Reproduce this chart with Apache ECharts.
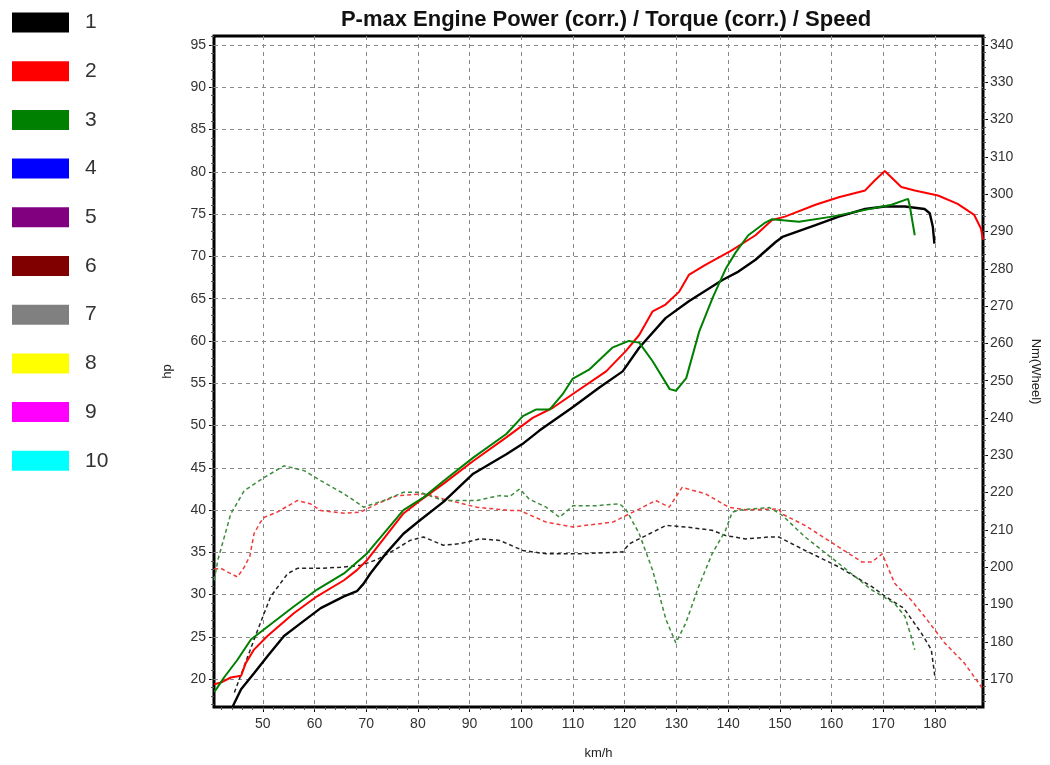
<!DOCTYPE html>
<html>
<head>
<meta charset="utf-8">
<script src="https://cdn.jsdelivr.net/npm/echarts@6/dist/echarts.min.js"></script>
<style>html,body{margin:0;padding:0;background:#fff}#c{width:1050px;height:765px}</style>
</head>
<body>
<div id="c"></div>
<script>
// ---- tick labels ----
const speedTicks = [50,60,70,80,90,100,110,120,130,140,150,160,170,180];
const hpTicks = [20,25,30,35,40,45,50,55,60,65,70,75,80,85,90,95];
const nmTicks = [170,180,190,200,210,220,230,240,250,260,270,280,290,300,310,320,330,340];
const legendNames = ['1','2','3','4','5','6','7','8','9','10'];
const legendColors = ['#000000','#ff0000','#008000','#0000ff','#800080','#800000','#808080','#ffff00','#ff00ff','#00ffff'];

// ---- power (hp) vs speed (km/h), solid ----
const power1 = [[44.2,16.8],[45.8,18.8],[48.3,20.7],[50.9,22.7],[54.1,25.1],[57.3,26.6],[61.2,28.4],[65.7,29.8],[68.2,30.4],[69.5,31.3],[70.8,32.5],[74,35],[77.2,37.2],[80.4,38.8],[85,41],[90.7,44.3],[97.1,46.6],[100.2,47.8],[103.5,49.4],[109.8,52.1],[115.1,54.5],[119.6,56.4],[122.8,59.2],[127.9,62.7],[132.4,64.7],[138.9,67.2],[142,68.2],[145.3,69.6],[149.2,71.7],[150.5,72.3],[156.9,73.7],[161.4,74.7],[166.5,75.6],[170.3,75.9],[174.2,75.9],[178,75.6],[179,75.1],[179.6,73.5],[179.9,71.5]];
const power2 = [[40.6,19.4],[41.9,19.6],[43.8,20.2],[45.8,20.4],[46.7,21.9],[48.3,23.5],[50.9,25.1],[56,27.8],[60.5,29.8],[65.7,31.7],[68.2,32.9],[70.2,34.1],[77.2,39.6],[80.4,41.1],[84.9,43.1],[90.7,45.8],[97.1,48.6],[102.2,50.9],[106.1,52.1],[109.9,53.7],[116.4,56.4],[120.2,58.8],[122.8,60.7],[125.4,63.5],[127.9,64.3],[130.5,65.8],[132.4,67.8],[135.6,69],[140.7,70.7],[145.3,72.5],[148.5,74.3],[151,74.7],[156.9,76.1],[161.4,77],[166.5,77.8],[168.4,79],[170.3,80.1],[173.5,78.2],[176.1,77.8],[180.6,77.2],[184.4,76.2],[187.6,74.9],[188.9,73.3],[189.3,72]];
const power3 = [[40.6,18.5],[41.2,19],[42.5,20.2],[45.1,22.3],[47.7,24.7],[50.9,26.2],[56,28.6],[60.5,30.6],[65.7,32.5],[70.2,34.9],[77.2,40],[81.1,41.5],[84.9,43.4],[90.7,46.2],[97.1,49],[100.3,51.1],[102.9,51.9],[105.5,51.9],[108,53.7],[109.9,55.5],[113.1,56.6],[117.6,59.2],[120.8,60],[122.8,59.8],[125.4,57.6],[128.7,54.3],[129.9,54.1],[131.9,55.6],[134.4,61.1],[137,65.1],[139.6,68.6],[141.5,70.5],[143.9,72.5],[147.2,74],[148.5,74.4],[153.7,74.1],[160.1,74.7],[166.5,75.5],[171.6,76.1],[174.8,76.8],[175.1,76.1],[176.1,72.5]];

// ---- torque (Nm wheel) vs speed (km/h), dashed ----
const torque1 = [[44.5,166.4],[48.3,180.6],[51.5,192.1],[54.8,198.3],[56.7,199.7],[61.2,199.7],[65,200],[68.9,200.5],[72,202],[75.3,204.5],[78.5,207.2],[81.1,208.1],[84.9,205.9],[88.1,206.3],[92,207.6],[95.8,207.2],[100.3,204.5],[104.8,203.6],[111.2,203.6],[119.6,204.1],[120.9,206.3],[124.1,208.5],[128,211.2],[131.8,210.8],[136.9,209.9],[139.5,208.5],[143.4,207.6],[147.8,208.1],[149.8,208.1],[154.9,204.5],[161.4,200.1],[167.8,194.8],[170.5,192.1],[174,189],[177.4,182.3],[179.3,177.9],[179.9,171.7],[180,170.5]];
const torque2 = [[40.6,199.5],[41.9,199.7],[43.5,198.5],[45.1,197.4],[46.4,200],[47.5,203],[48.3,209],[49.5,212],[50.3,213.4],[52.8,214.8],[56.7,217.9],[59.2,217],[61.2,215.2],[65.7,214.5],[68.9,214.8],[72.1,217],[76,219.2],[81.7,219.7],[84.9,218.3],[91.4,216.1],[97.8,215.2],[99.7,215.2],[104.8,212.1],[110,210.8],[117.7,212.1],[122.8,215.6],[126,217.9],[128.6,216.1],[131.1,221.4],[135.6,219.7],[140.1,216.1],[143.4,215.4],[149.8,215.6],[150.4,214.3],[154.9,211.2],[161.4,205.4],[165.9,201.4],[167.8,201.4],[169.8,203.6],[172.2,195.7],[175.4,191.2],[178,186.8],[181.9,179.7],[185.7,174.3],[188.9,168.1],[189.3,167]];
const torque3 = [[40.6,196.5],[41.3,201.9],[43.8,214.3],[46.4,220.5],[50.3,224.1],[54.1,227.2],[58,225.9],[61.2,223.2],[65.7,219.7],[69.5,216.1],[73.4,217.9],[77.2,220.1],[80.4,220.1],[84.9,217.9],[91.4,217.9],[95.8,219.2],[97.8,219],[99.7,221],[101.5,218.3],[104.8,216.1],[107.4,213.4],[110,216.5],[114.5,216.5],[119,217],[120.2,215.6],[122.8,209],[125.4,199.2],[128,185.9],[129.9,179.7],[131.8,185],[134.3,194.8],[136.9,203.6],[139.5,209.9],[140.8,214.8],[143,215.5],[148,216],[150.4,214],[154.9,208.1],[161.4,201],[167.8,193.9],[172.2,190.3],[174.2,186.8],[175.4,181.5],[176.1,177.9]];

const speedMinor = [];
for (let v = 42; v <= 188; v += 2) speedMinor.push(v);
const hpMinor = [];
for (let v = 17; v <= 96; v += 1) hpMinor.push(v);
const nmMinor = [];
for (let v = 164; v <= 342; v += 2) nmMinor.push(v);

const FONT = 'Liberation Sans';
const X_MIN = 40.56, X_MAX = 189.3;
const HP_MIN = 16.71, HP_MAX = 96.06;
const NM_MIN = 162.54, NM_MAX = 342.4;

const labelStyle = {color:'#333', fontSize:14, fontFamily:FONT};
const gridLine = {show:true, lineStyle:{color:'#8a8a8a', type:[4,4], width:1}};

const chart = echarts.init(document.getElementById('c'), null, {renderer:'canvas'});

const series = [];
function dashed(name, data, color) {
  series.push({name:name, type:'line', xAxisIndex:0, yAxisIndex:1, data:data, symbol:'none', smooth:false,
    lineStyle:{color:color, width:1.5, type:[4,3]}, itemStyle:{color:color}, z:2, silent:true});
}
function solid(name, data, color, w) {
  series.push({name:name, type:'line', xAxisIndex:0, yAxisIndex:0, data:data, symbol:'none', smooth:false,
    lineStyle:{color:color, width:w}, itemStyle:{color:color}, z:3, silent:true});
}
dashed('1 Nm', torque1, '#222222');
dashed('2 Nm', torque2, '#f23a3a');
dashed('3 Nm', torque3, '#3c8c3c');
solid('1', power1, legendColors[0], 2.4);
solid('2', power2, legendColors[1], 2);
solid('3', power3, legendColors[2], 2);
for (let i = 3; i < legendNames.length; i++) {
  series.push({name:legendNames[i], type:'line', xAxisIndex:0, yAxisIndex:0, data:[], symbol:'none',
    lineStyle:{color:legendColors[i]}, itemStyle:{color:legendColors[i]}});
}

const option = {
  animation:false,
  backgroundColor:'#fff',
  title:{text:'P-max Engine Power (corr.) / Torque (corr.) / Speed', left:601, top:4, textAlign:'center',
    textStyle:{fontFamily:FONT, fontWeight:'bold', fontSize:22, color:'#111'}},
  legend:{orient:'vertical', left:12, top:12, padding:0, itemWidth:57, itemHeight:20, itemGap:27.7, icon:'rect',
    selectedMode:false, data:legendNames,
    textStyle:{fontFamily:FONT, fontSize:21, color:'#333', lineHeight:20, padding:[0,0,0,11]}},
  grid:{left:214, right:64, top:36, bottom:54, show:true, borderColor:'#000', borderWidth:3, backgroundColor:'#fff'},
  xAxis:[
    {type:'value', min:X_MIN, max:X_MAX, position:'bottom', name:'km/h', nameLocation:'middle', nameGap:40,
     nameTextStyle:{fontFamily:FONT, fontSize:13, color:'#222'},
     axisLine:{show:false, onZero:false},
     axisTick:{show:true, inside:false, length:5, customValues:speedTicks, lineStyle:{color:'#000'}},
     axisLabel:{customValues:speedTicks, margin:10, ...labelStyle},
     splitLine:gridLine},
    {type:'value', min:X_MIN, max:X_MAX, position:'bottom', axisLine:{show:false, onZero:false},
     axisTick:{show:true, length:3, customValues:speedMinor, lineStyle:{color:'#555'}},
     axisLabel:{show:false}, splitLine:{show:false}}
  ],
  yAxis:[
    {type:'value', min:HP_MIN, max:HP_MAX, position:'left', name:'hp', nameLocation:'middle', nameGap:40,
     nameTextStyle:{fontFamily:FONT, fontSize:13, color:'#222'},
     axisLine:{show:false, onZero:false},
     axisTick:{show:true, length:5, customValues:hpTicks, lineStyle:{color:'#000'}},
     axisLabel:{customValues:hpTicks, margin:8, ...labelStyle},
     splitLine:gridLine},
    {type:'value', min:NM_MIN, max:NM_MAX, position:'right', name:'Nm(Wheel)', nameLocation:'middle', nameGap:46, nameRotate:-90,
     nameTextStyle:{fontFamily:FONT, fontSize:13, color:'#222'},
     axisLine:{show:false, onZero:false},
     axisTick:{show:true, length:5, customValues:nmTicks, lineStyle:{color:'#000'}},
     axisLabel:{customValues:nmTicks, margin:7, ...labelStyle},
     splitLine:{show:false}},
    {type:'value', min:HP_MIN, max:HP_MAX, position:'left', axisLine:{show:false, onZero:false},
     axisTick:{show:true, length:3, customValues:hpMinor, lineStyle:{color:'#555'}},
     axisLabel:{show:false}, splitLine:{show:false}},
    {type:'value', min:NM_MIN, max:NM_MAX, position:'right', axisLine:{show:false, onZero:false},
     axisTick:{show:true, length:3, customValues:nmMinor, lineStyle:{color:'#555'}},
     axisLabel:{show:false}, splitLine:{show:false}}
  ],
  series:series
};
chart.setOption(option);
</script>
</body>
</html>
